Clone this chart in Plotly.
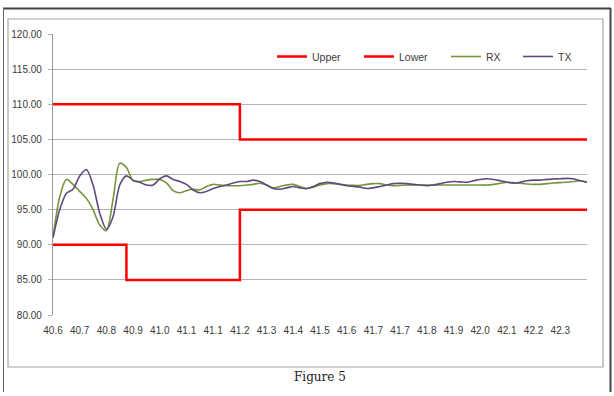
import plotly.graph_objects as go

# ---- data ----
tick_labels = ["40.6", "40.7", "40.8", "40.9", "41.0", "41.1", "41.1", "41.2", "41.3", "41.4",
               "41.5", "41.6", "41.7", "41.7", "41.8", "41.9", "42.0", "42.1", "42.2", "42.3"]
samples_per_label = 4
sample_index = list(range(81))

rx = [91.0, 96.8, 99.3, 98.6, 97.6, 96.6, 95.0, 92.8, 92.0, 96.5,
      101.6, 101.0, 99.1, 99.0, 99.2, 99.3, 99.3, 98.8, 97.7, 97.4,
      97.7, 97.9, 97.8, 98.3, 98.6, 98.5, 98.4, 98.4, 98.4, 98.5,
      98.6, 98.75, 98.5, 98.1, 98.3, 98.5, 98.6, 98.3, 98.0, 98.2,
      98.5, 98.7, 98.7, 98.6, 98.5, 98.45, 98.45, 98.6, 98.7, 98.7,
      98.5, 98.4, 98.45, 98.5, 98.5, 98.5, 98.5, 98.5, 98.5, 98.5,
      98.5, 98.5, 98.5, 98.5, 98.5, 98.5, 98.6, 98.75, 98.9, 98.85,
      98.75, 98.65, 98.6, 98.6, 98.7, 98.8, 98.85, 98.9, 99.0, 99.1,
      98.9]

tx = [91.0, 95.0, 97.3, 97.9, 99.8, 100.7, 98.5, 94.5, 92.2, 94.0,
      98.5, 99.8, 99.2, 98.9, 98.5, 98.5, 99.4, 99.8, 99.3, 99.0,
      98.6, 97.8, 97.4, 97.6, 98.0, 98.3, 98.5, 98.8, 99.0, 99.0,
      99.2, 99.0, 98.5, 98.0, 97.9, 98.1, 98.3, 98.1, 98.0, 98.3,
      98.7, 98.9, 98.8, 98.6, 98.4, 98.3, 98.2, 98.0, 98.1, 98.3,
      98.5, 98.7, 98.75, 98.7, 98.6, 98.5, 98.4, 98.5, 98.7, 98.9,
      99.0, 98.95, 98.9, 99.1, 99.3, 99.4, 99.3, 99.1, 98.9, 98.75,
      98.9, 99.1, 99.2, 99.2, 99.3, 99.35, 99.4, 99.45, 99.4, 99.1,
      98.9]

upper_x = [0, 28, 80]
upper_y = [110, 105, 105]
lower_x = [0, 11, 28, 80]
lower_y = [90, 85, 95, 95]

y_ticks = [80, 85, 90, 95, 100, 105, 110, 115, 120]

# ---- figure ----
W, H = 614, 396
L, R, T, B = 53, 587, 34, 315


def px_x(p):
    return (p - L) / (R - L)


def px_y(p):
    return (B - p) / (B - T)


legend_font = dict(family="Liberation Sans, Arial, sans-serif", size=10.5, color="#404040")
tick_font = dict(family="Liberation Sans, Arial, sans-serif", size=10, color="#3a3a3a")

fig = go.Figure()
fig.add_trace(go.Scatter(x=upper_x, y=upper_y, mode="lines", name="Upper", legend="legend",
                         line=dict(color="#ff0000", width=2.5, shape="hv")))
fig.add_trace(go.Scatter(x=lower_x, y=lower_y, mode="lines", name="Lower", legend="legend2",
                         line=dict(color="#ff0000", width=2.5, shape="hv")))
fig.add_trace(go.Scatter(x=sample_index, y=rx, mode="lines", name="RX", legend="legend3",
                         line=dict(color="#77933c", width=1.6, shape="spline", smoothing=0.8)))
fig.add_trace(go.Scatter(x=sample_index, y=tx, mode="lines", name="TX", legend="legend4",
                         line=dict(color="#5f4a7c", width=1.6, shape="spline", smoothing=0.8)))


def legend_at(px):
    return dict(x=px_x(px), y=px_y(42), xanchor="left", yanchor="top",
                font=legend_font, bgcolor="rgba(0,0,0,0)", borderwidth=0,
                orientation="h", itemwidth=30)


fig.update_layout(
    width=W, height=H,
    margin=dict(l=L, r=W - R, t=T, b=H - B),
    paper_bgcolor="white", plot_bgcolor="white",
    showlegend=True,
    legend=legend_at(272),
    legend2=legend_at(359),
    legend3=legend_at(446),
    legend4=legend_at(518),
    xaxis=dict(range=[0, 80], tickmode="array",
               tickvals=[i * samples_per_label for i in range(len(tick_labels))],
               ticktext=tick_labels, showgrid=False, zeroline=False,
               showline=False, ticks="", tickfont=tick_font, ticklabelstandoff=8),
    yaxis=dict(range=[80, 120], tickmode="array", tickvals=y_ticks,
               ticktext=[f"{v:.2f}" for v in y_ticks],
               showgrid=True, gridcolor="#b4b4b4", gridwidth=1.2, zeroline=False,
               showline=True, linecolor="#999999", linewidth=1.2,
               ticks="outside", ticklen=4, tickcolor="#b4b4b4", tickwidth=1.2,
               tickfont=tick_font, ticklabelstandoff=4),
    shapes=[
        # chart-area border
        dict(type="rect", xref="paper", yref="paper",
             x0=px_x(8), x1=px_x(603), y0=px_y(367), y1=px_y(19),
             line=dict(color="#a6a6a6", width=1.2), fillcolor="rgba(0,0,0,0)", layer="below"),
        # outer frame lines
        dict(type="line", xref="paper", yref="paper",
             x0=px_x(3), x1=px_x(611), y0=px_y(8.5), y1=px_y(8.5),
             line=dict(color="#444444", width=2)),
        dict(type="line", xref="paper", yref="paper",
             x0=px_x(3.5), x1=px_x(3.5), y0=px_y(8), y1=px_y(392),
             line=dict(color="#666666", width=1)),
        dict(type="line", xref="paper", yref="paper",
             x0=px_x(610.5), x1=px_x(610.5), y0=px_y(8), y1=px_y(392),
             line=dict(color="#444444", width=2)),
    ],
    annotations=[
        dict(text="Figure 5", xref="paper", yref="paper", x=px_x(320), y=px_y(377),
             showarrow=False, xanchor="center", yanchor="middle",
             font=dict(family="DejaVu Serif, Liberation Serif, serif", size=12, color="#222222")),
    ],
)

fig.write_html("out.html")
